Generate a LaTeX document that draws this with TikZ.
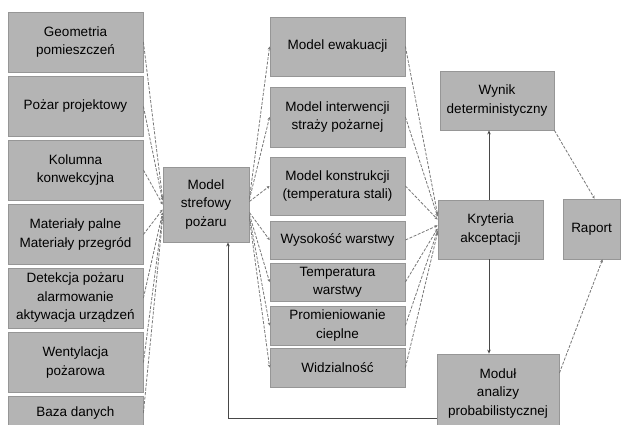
\documentclass[tikz,border=0pt]{standalone}
\usepackage{fontspec}
\setmainfont{Liberation Sans}
\usetikzlibrary{arrows.meta}
\definecolor{boxgray}{RGB}{180,180,180}
\definecolor{edgegray}{RGB}{150,150,150}
\definecolor{linegray}{RGB}{120,120,120}
\tikzset{
  box/.style={draw=edgegray, fill=boxgray, line width=0.8pt, align=center,
    inner sep=2pt, font=\fontsize{13.5}{18.5}\selectfont},
  flow/.style={draw=linegray, dash pattern=on 3pt off 1.5pt, line width=0.8pt,
    -{Stealth[length=3pt,width=3pt]}},
  link/.style={draw=linegray!60!black, line width=0.8pt,
    -{Stealth[length=4pt,width=3.5pt]}},
}
\begin{document}
\begin{tikzpicture}[x=1pt,y=-1pt]
  \path[use as bounding box] (0,0) rectangle (628,424);
  \clip (0,0) rectangle (628,424);
  \fill[white] (0,0) rectangle (628,424);
  % input data
  \foreach \name/\Y/\H/\txt in {geom/42/60/{Geometria\\pomieszczeń},
      pozar/106.5/60/{Pożar projektowy}, kolumna/170/60/{Kolumna\\konwekcyjna},
      mater/234.5/60/{Materiały palne\\Materiały przegród},
      detek/298/60/{Detekcja pożaru\\alarmowanie\\aktywacja urządzeń},
      went/362.5/60/{Wentylacja\\pożarowa}, baza/413/33/{Baza danych}} {%
    \node[box, minimum width=135pt, minimum height=\H pt] (\name) at (75.5,\Y) {\txt};
  }
  \node[box, minimum width=86pt, minimum height=75pt] (strefowy) at (206,204.5) {Model\\strefowy\\pożaru};
  % results of the zone model
  \foreach \name/\Y/\H/\txt in {ewak/46.5/59/{Model ewakuacji},
      interw/117/60/{Model interwencji\\straży pożarnej},
      konstr/186/58/{Model konstrukcji\\(temperatura stali)},
      wysok/240/38/{Wysokość warstwy}, temp/282/38/{Temperatura\\warstwy},
      prom/325.5/39/{Promieniowanie\\cieplne}, widz/367.5/39/{Widzialność}} {%
    \node[box, minimum width=135pt, minimum height=\H pt] (\name) at (337.5,\Y) {\txt};
  }
  \node[box, minimum width=105pt, minimum height=59pt] (kryt) at (490.5,229.5) {Kryteria\\akceptacji};
  \node[box, minimum width=114pt, minimum height=59pt] (wynik) at (497,100.5) {Wynik\\deterministyczny};
  \node[box, minimum width=57pt, minimum height=60pt] (raport) at (591.5,229) {Raport};
  \node[box, minimum width=122pt, minimum height=78pt] (modul) at (498,393) {Moduł\\analizy\\probabilistycznej};

  \foreach \src/\dy in {geom/6, pozar/4, kolumna/0, mater/-5, detek/-8, went/-11, baza/-14}
    \draw[flow] (\src.east) -- ([yshift=\dy pt]strefowy.west);
  \foreach \dst/\dy in {ewak/6, interw/5, konstr/3, wysok/-8, temp/-10, prom/-12, widz/-14}
    \draw[flow] ([yshift=\dy pt]strefowy.east) -- (\dst.west);
  \foreach \src/\dy in {ewak/15, interw/13, konstr/10, wysok/4, temp/1, prom/-1, widz/-3}
    \draw[flow] (\src.east) -- ([yshift=\dy pt]kryt.west);
  \draw[flow] (wynik.south east) -- ([xshift=3pt]raport.north);
  \draw[flow] ([yshift=20pt]modul.east) -- ([xshift=11pt]raport.south);
  \draw[link] ([xshift=-1.5pt]kryt.north) -- ([xshift=-1.5pt]kryt.north |- wynik.south);
  \draw[link] ([xshift=-1.5pt]kryt.south) -- ([xshift=-1.5pt]kryt.south |- modul.north);
  \draw[link] ([yshift=-25pt]modul.west) -| ([xshift=22pt]strefowy.south);
\end{tikzpicture}
\end{document}
